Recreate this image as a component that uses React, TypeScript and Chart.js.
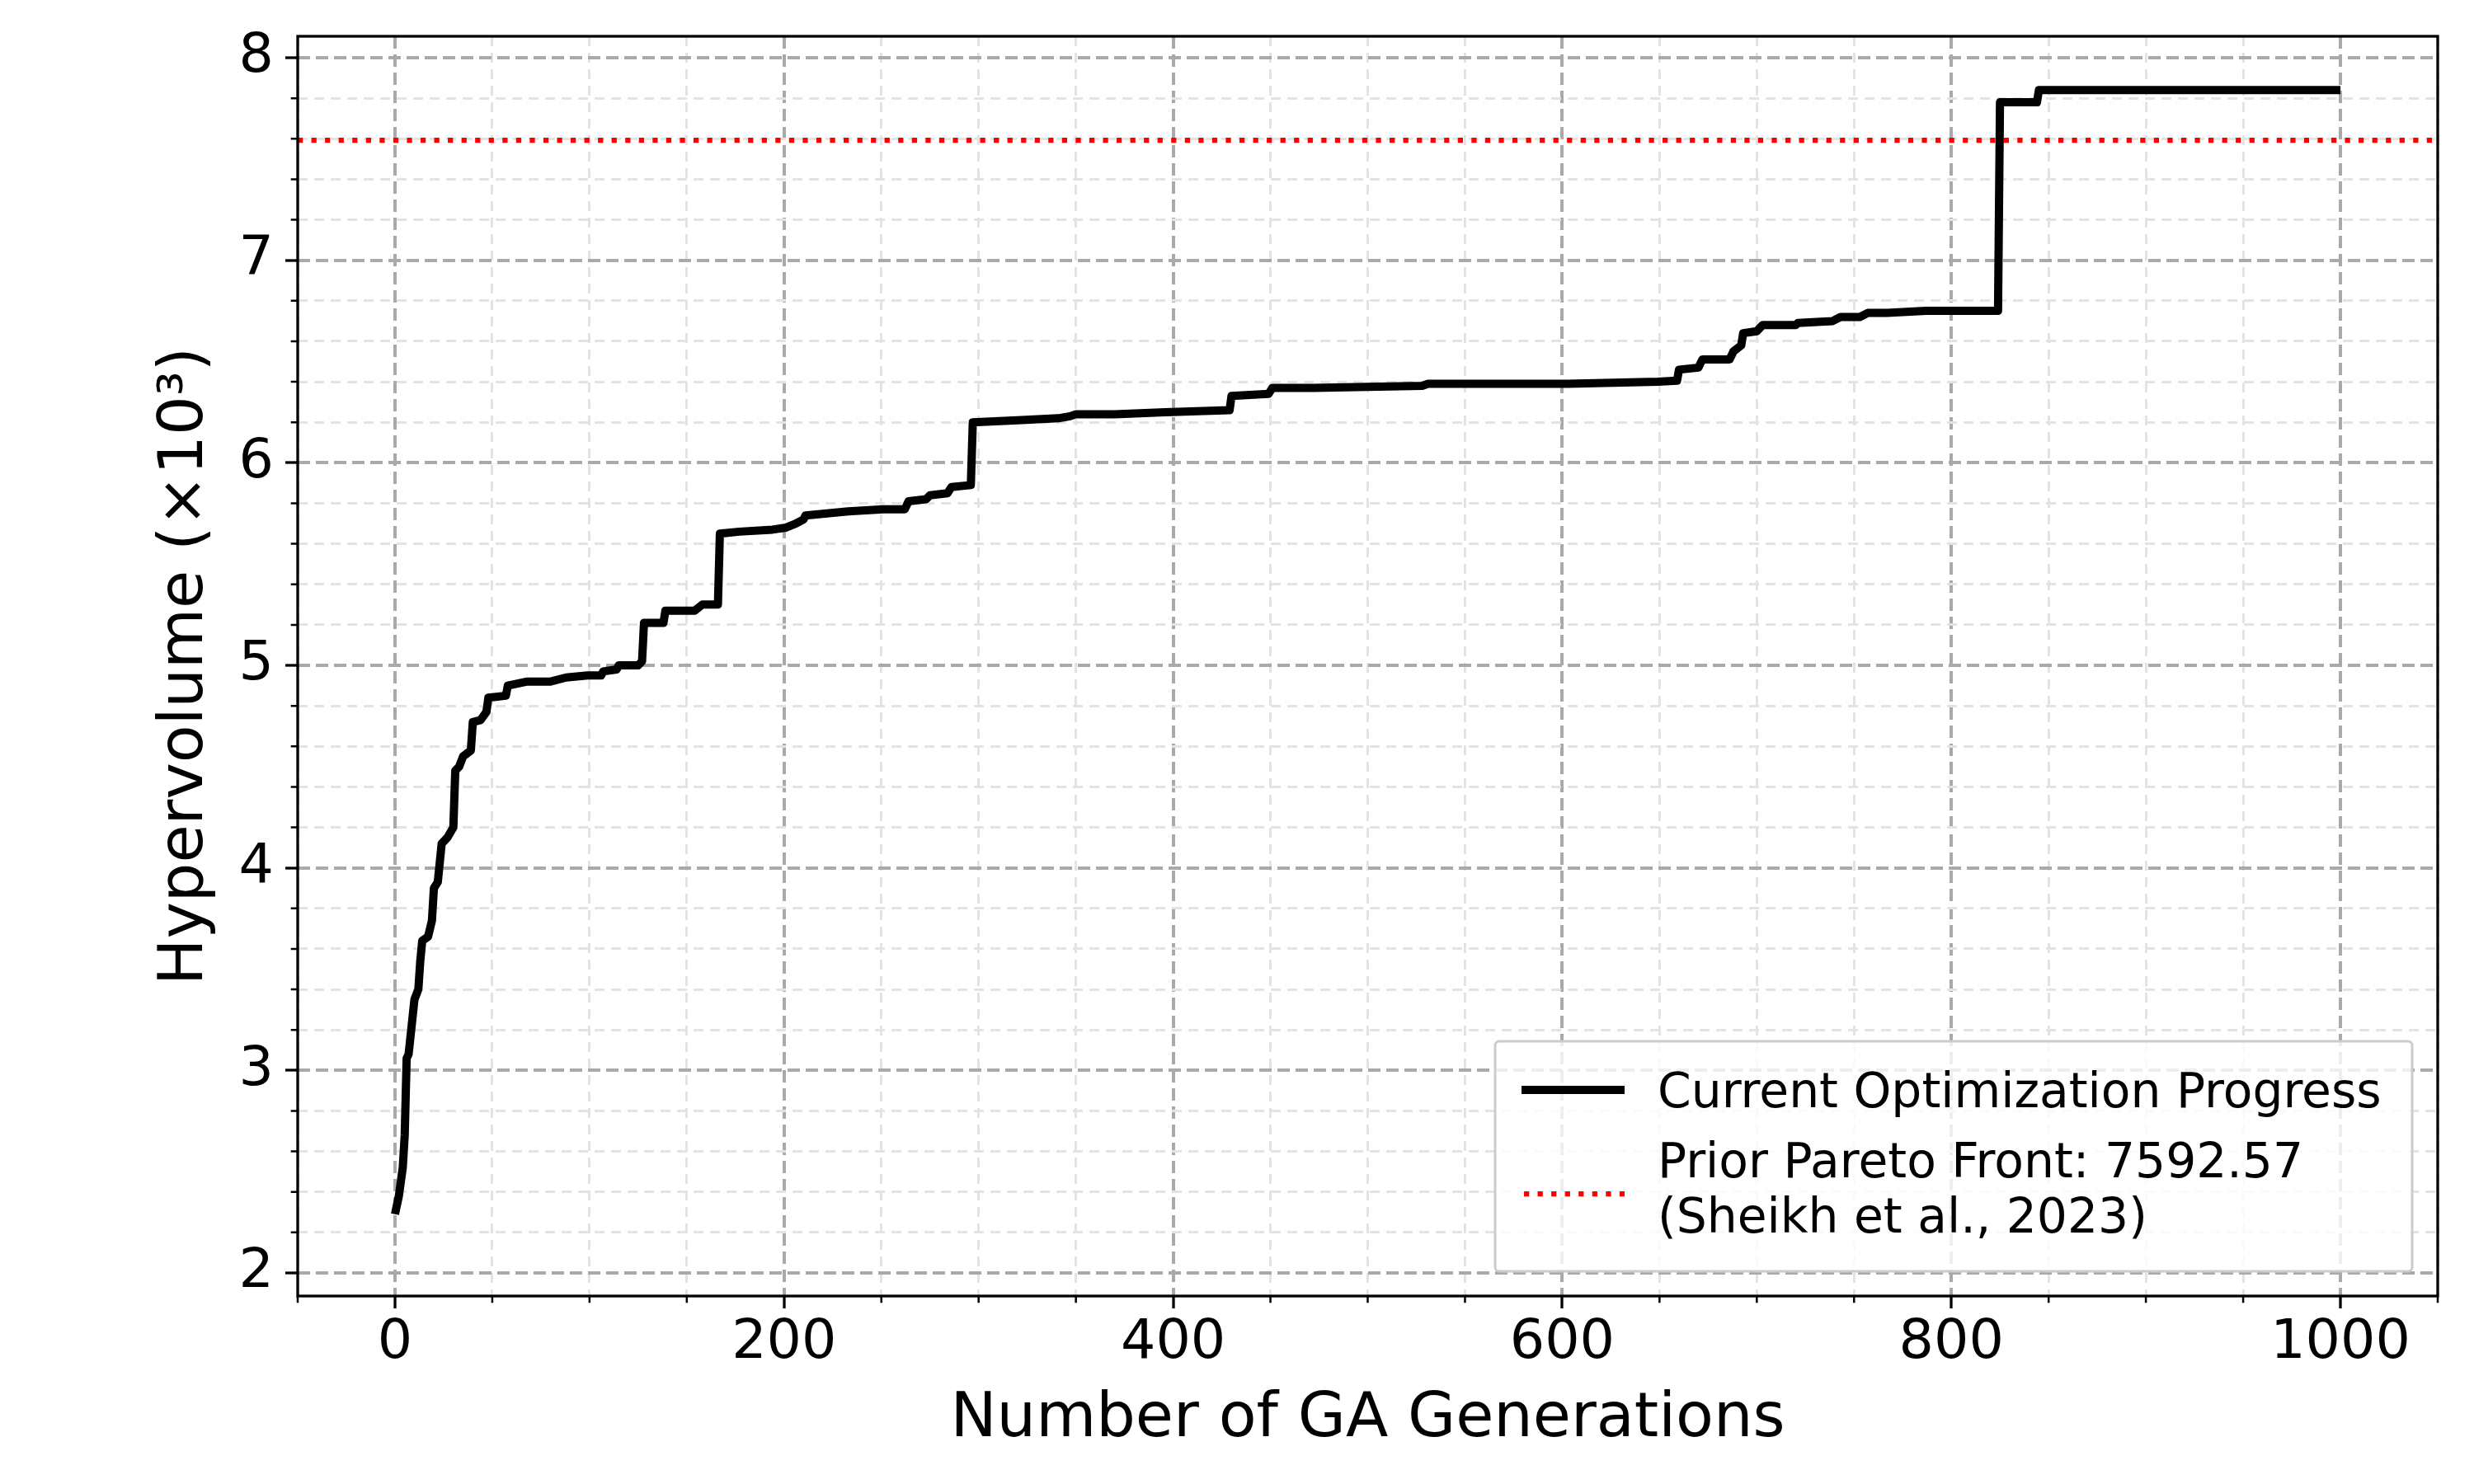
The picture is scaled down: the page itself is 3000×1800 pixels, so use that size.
import React, { useEffect, useRef } from 'react';
import { Chart, registerables } from 'chart.js';

Chart.register(...registerables);

// ---- data (hypervolume in units of 10^3) ----
const generations = [
  0, 2, 4, 5, 6, 7, 10, 12, 13, 14, 17, 19, 20, 22, 24, 27, 30, 31, 33, 35, 39, 40, 44, 47, 48,
  57, 58, 68, 80, 88, 99, 106, 107, 114, 115, 125, 127, 128, 138, 139, 154, 158, 166, 167, 177,
  194, 201, 206, 210, 211, 233, 251, 262, 264, 273, 275, 284, 286, 296, 297, 320, 341, 347, 350,
  370, 396, 429, 430, 449, 451, 472, 528, 531, 576, 603, 649, 659, 660, 670, 672, 686, 688, 692,
  693, 700, 703, 720, 721, 739, 743, 753, 757, 767, 787, 824, 825, 844, 845, 1000,
];
const hypervolume = [
  2.29, 2.38, 2.52, 2.68, 3.06, 3.08, 3.35, 3.40, 3.54, 3.64, 3.66, 3.74, 3.90, 3.93, 4.12, 4.15,
  4.20, 4.48, 4.50, 4.55, 4.58, 4.72, 4.73, 4.77, 4.84,
  4.85, 4.90, 4.92, 4.92, 4.94, 4.95, 4.95, 4.97, 4.98, 5.00, 5.00, 5.02, 5.21, 5.21, 5.27, 5.27,
  5.30, 5.30, 5.65, 5.66,
  5.67, 5.68, 5.70, 5.72, 5.74, 5.76, 5.77, 5.77, 5.81, 5.82, 5.84, 5.85, 5.88, 5.89, 6.20, 6.21,
  6.22, 6.23, 6.24,
  6.24, 6.25, 6.26, 6.33, 6.34, 6.37, 6.37, 6.38, 6.39, 6.39, 6.39, 6.40, 6.405, 6.46, 6.47, 6.51,
  6.51, 6.55, 6.58,
  6.64, 6.65, 6.68, 6.68, 6.69, 6.70, 6.72, 6.72, 6.74, 6.74, 6.75, 6.75, 7.78, 7.78, 7.84, 7.84,
];
const priorParetoFront = 7592.57; // hypervolume of prior front
const progressLabel = 'Current Optimization Progress';
const priorLabel = ['Prior Pareto Front: ' + priorParetoFront.toFixed(2), '(Sheikh et al., 2023)'];

const xLimits = [-50, 1050];
const yLimits = [1.886, 8.106];
const xMajorTicks = [0, 200, 400, 600, 800, 1000];
const xMinorTicks = [-50, 50, 100, 150, 250, 300, 350, 450, 500, 550, 650, 700, 750, 850, 900, 950, 1050];
const yMajorTicks = [2, 3, 4, 5, 6, 7, 8];
const yMinorTicks = [
  2.2, 2.4, 2.6, 2.8, 3.2, 3.4, 3.6, 3.8, 4.2, 4.4, 4.6, 4.8, 5.2, 5.4, 5.6, 5.8,
  6.2, 6.4, 6.6, 6.8, 7.2, 7.4, 7.6, 7.8,
];
const xTitle = 'Number of GA Generations';
const yTitle = 'Hypervolume (×10³)';

const FONT = "'DejaVu Sans', 'Liberation Sans', sans-serif";
const MAJOR_GRID = '#a9a9a9';
const MINOR_GRID = '#e3e3e3';

const isMajor = (list: number[], v: number) => list.some((m) => Math.abs(m - v) < 1e-6);

const decorPlugin = {
  id: 'decor',
  afterDraw(chart: any) {
    const { ctx, chartArea: a, scales } = chart;
    ctx.save();
    // minor tick marks
    ctx.strokeStyle = '#000';
    ctx.lineWidth = 2.5;
    ctx.setLineDash([]);
    ctx.beginPath();
    for (const v of xMinorTicks) {
      const px = scales.x.getPixelForValue(v);
      ctx.moveTo(px, a.bottom);
      ctx.lineTo(px, a.bottom + 8.3);
    }
    for (const v of yMinorTicks) {
      const py = scales.y.getPixelForValue(v);
      ctx.moveTo(a.left, py);
      ctx.lineTo(a.left - 8.3, py);
    }
    ctx.stroke();
    // frame
    ctx.lineWidth = 3.3;
    ctx.strokeRect(a.left, a.top, a.right - a.left, a.bottom - a.top);

    // legend
    const ds = chart.data.datasets;
    const boxW = 1112;
    const boxH = 279;
    const bx = a.right - 31 - boxW;
    const by = a.bottom - 30 - boxH;
    ctx.fillStyle = 'rgba(255,255,255,0.8)';
    ctx.strokeStyle = '#cccccc';
    ctx.lineWidth = 3;
    ctx.beginPath();
    ctx.roundRect(bx, by, boxW, boxH, 5);
    ctx.fill();
    ctx.stroke();

    // entry 1
    ctx.strokeStyle = ds[0].borderColor;
    ctx.lineWidth = ds[0].borderWidth;
    ctx.beginPath();
    ctx.moveTo(bx + 32, by + 59);
    ctx.lineTo(bx + 157, by + 59);
    ctx.stroke();
    // entry 2
    ctx.strokeStyle = ds[1].borderColor;
    ctx.lineWidth = ds[1].borderWidth;
    ctx.setLineDash(ds[1].borderDash);
    ctx.beginPath();
    ctx.moveTo(bx + 35, by + 185);
    ctx.lineTo(bx + 157, by + 185);
    ctx.stroke();
    ctx.setLineDash([]);

    ctx.fillStyle = '#000';
    ctx.font = `58.3px ${FONT}`;
    ctx.textBaseline = 'alphabetic';
    ctx.textAlign = 'left';
    ctx.fillText(ds[0].label, bx + 197, by + 80);
    const lines = String(ds[1].label).split('\n');
    lines.forEach((ln: string, i: number) => ctx.fillText(ln, bx + 197, by + 165 + i * 67));
    ctx.restore();
  },
};

export default function App() {
  const ref = useRef<HTMLCanvasElement>(null);

  useEffect(() => {
    if (!ref.current) return;
    const progress = generations.map((g, i) => ({ x: g, y: hypervolume[i] }));
    const prior = [
      { x: xLimits[0], y: priorParetoFront / 1000 },
      { x: xLimits[1], y: priorParetoFront / 1000 },
    ];
    const xTicks = [...xMajorTicks, ...xMinorTicks].sort((p, q) => p - q);
    const yTicks = [...yMajorTicks, ...yMinorTicks].sort((p, q) => p - q);

    const chart = new Chart(ref.current, {
      type: 'line',
      data: {
        datasets: [
          {
            label: progressLabel,
            data: progress,
            borderColor: '#000000',
            borderWidth: 10,
            pointRadius: 0,
            tension: 0,
            fill: false,
            borderJoinStyle: 'round',
            borderCapStyle: 'butt',
          },
          {
            label: priorLabel.join('\n'),
            data: prior,
            borderColor: '#ff0000',
            borderWidth: 6.25,
            borderDash: [6.25, 10.3],
            pointRadius: 0,
            fill: false,
          },
        ],
      },
      options: {
        responsive: false,
        devicePixelRatio: 1,
        animation: false,
        events: [],
        layout: { padding: { left: 0, right: 44, top: 44, bottom: 0 } },
        plugins: { legend: { display: false }, tooltip: { enabled: false } },
        scales: {
          x: {
            type: 'linear',
            min: xLimits[0],
            max: xLimits[1],
            afterBuildTicks: (s: any) => {
              s.ticks = xTicks.map((v) => ({ value: v }));
            },
            afterFit: (s: any) => {
              s.height = 228;
              s.paddingLeft = 0;
              s.paddingRight = 0;
            },
            ticks: {
              autoSkip: false,
              maxRotation: 0,
              minRotation: 0,
              padding: 3,
              color: '#000',
              font: { family: FONT, size: 66.7 },
              callback: (v: any) => (isMajor(xMajorTicks, Number(v)) ? String(v) : ''),
            },
            grid: {
              color: (c: any) => (isMajor(xMajorTicks, c.tick?.value) ? MAJOR_GRID : MINOR_GRID),
              lineWidth: (c: any) => (isMajor(xMajorTicks, c.tick?.value) ? 4 : 3),
              tickColor: (c: any) => (isMajor(xMajorTicks, c.tick?.value) ? '#000' : 'rgba(0,0,0,0)'),
              tickWidth: 3.3,
              tickLength: 15,
              drawTicks: true,
            },
            border: {
              display: false,
              dash: (c: any) => (isMajor(xMajorTicks, c.tick?.value) ? [15, 7] : [12, 8]),
            },
            title: {
              display: true,
              text: xTitle,
              color: '#000',
              font: { family: FONT, size: 75 },
              padding: { top: 0, bottom: 32 },
            },
          },
          y: {
            type: 'linear',
            min: yLimits[0],
            max: yLimits[1],
            afterBuildTicks: (s: any) => {
              s.ticks = yTicks.map((v) => ({ value: v }));
            },
            afterFit: (s: any) => {
              s.width = 361;
              s.paddingTop = 0;
              s.paddingBottom = 0;
            },
            ticks: {
              autoSkip: false,
              padding: 14,
              color: '#000',
              font: { family: FONT, size: 66.7 },
              callback: (v: any) => (isMajor(yMajorTicks, Number(v)) ? String(Math.round(Number(v))) : ''),
            },
            grid: {
              color: (c: any) => (isMajor(yMajorTicks, c.tick?.value) ? MAJOR_GRID : MINOR_GRID),
              lineWidth: (c: any) => (isMajor(yMajorTicks, c.tick?.value) ? 4 : 3),
              tickColor: (c: any) => (isMajor(yMajorTicks, c.tick?.value) ? '#000' : 'rgba(0,0,0,0)'),
              tickWidth: 3.3,
              tickLength: 15,
              drawTicks: true,
            },
            border: {
              display: false,
              dash: (c: any) => (isMajor(yMajorTicks, c.tick?.value) ? [15, 7] : [12, 8]),
            },
            title: {
              display: true,
              text: yTitle,
              color: '#000',
              font: { family: FONT, size: 75 },
              padding: { top: 181, bottom: 0 },
            },
          },
        },
      },
      plugins: [decorPlugin],
    } as any);
    return () => chart.destroy();
  }, []);

  return (
    <div style={{ position: 'absolute', left: 0, top: 0, width: 3000, height: 1800, background: '#fff' }}>
      <canvas ref={ref} width={3000} height={1800} style={{ display: 'block', width: 3000, height: 1800 }} />
    </div>
  );
}
